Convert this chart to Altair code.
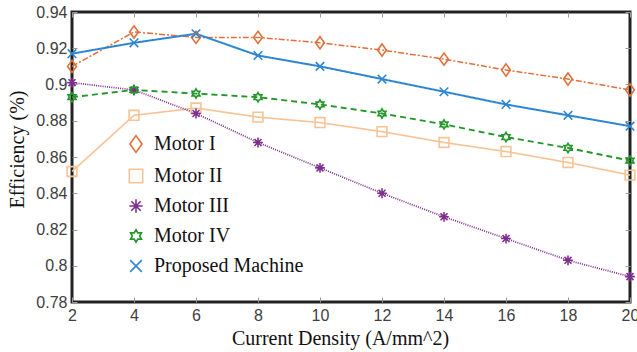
import altair as alt
import pandas as pd

x_vals = [2, 4, 6, 8, 10, 12, 14, 16, 18, 20]
series_names = ["Motor I", "Motor II", "Motor III", "Motor IV", "Proposed Machine"]
motor1 = [0.910, 0.929, 0.926, 0.926, 0.923, 0.919, 0.914, 0.908, 0.903, 0.897]
motor2 = [0.852, 0.883, 0.887, 0.882, 0.879, 0.874, 0.868, 0.863, 0.857, 0.850]
motor3 = [0.901, 0.897, 0.884, 0.868, 0.854, 0.840, 0.827, 0.815, 0.803, 0.794]
motor4 = [0.893, 0.897, 0.895, 0.893, 0.889, 0.884, 0.878, 0.871, 0.865, 0.858]
proposed = [0.917, 0.923, 0.928, 0.916, 0.910, 0.903, 0.896, 0.889, 0.883, 0.877]
y_ticks = [0.78, 0.80, 0.82, 0.84, 0.86, 0.88, 0.90, 0.92, 0.94]

values = [motor1, motor2, motor3, motor4, proposed]
rows = []
for name, vals in zip(series_names, values):
    for xv, yv in zip(x_vals, vals):
        rows.append({"x": xv, "eff": yv, "series": name})
df = pd.DataFrame(rows)

colors = ["#E0703A", "#F8C394", "#7E2F8E", "#23962A", "#2F86D0"]
shapes = [
    "M0,-1L0.72,0L0,1L-0.72,0Z",
    "M-0.8,-0.8L0.8,-0.8L0.8,0.8L-0.8,0.8Z",
    "M-0.8,0L0.8,0M0,-0.8L0,0.8M-0.57,-0.57L0.57,0.57M0.57,-0.57L-0.57,0.57",
    "M0,-0.75L0.217,-0.375L0.65,-0.375L0.433,0L0.65,0.375L0.217,0.375L0,0.75L-0.217,0.375L-0.65,0.375L-0.433,0L-0.65,-0.375L-0.217,-0.375Z",
    "M-0.7,-0.7L0.7,0.7M-0.7,0.7L0.7,-0.7",
]
dashes = [[6, 2, 2, 2], [1, 0], [1, 1.2], [6, 4], [1, 0]]
widths = [1.5, 2, 1.3, 2, 2]

xscale = alt.Scale(domain=[2, 20], nice=False, zero=False)
yscale = alt.Scale(domain=[0.78, 0.94], nice=False, zero=False)

tick_axis_common = dict(labels=False, domain=False, ticks=True, tickSize=5,
                        tickColor="#9a9a9a", tickWidth=1, title=None, grid=False, offset=-5)

legend_props = dict(title=None, orient="none", legendX=54, legendY=122,
                    labelFont="Liberation Serif", labelFontSize=20,
                    labelColor="#111", symbolSize=280, symbolStrokeWidth=1.6,
                    symbolFillColor="transparent", rowPadding=10,
                    labelOffset=8, padding=0, labelLimit=300)

lines = alt.Chart(df).mark_line().encode(
    x=alt.X("x:Q", scale=xscale,
            axis=alt.Axis(orient="bottom", values=x_vals, ticks=False, tickSize=0, domain=False,
                          grid=False, labelPadding=5, labelFont="Liberation Sans",
                          labelFontSize=16, labelColor="#404040", labelFlush=False,
                          title="Current Density (A/mm^2)", titleFont="Liberation Serif",
                          titleFontSize=20, titleFontWeight="normal", titleColor="#111",
                          titlePadding=5, titleX=268)),
    y=alt.Y("eff:Q", scale=yscale,
            axis=alt.Axis(orient="left", values=y_ticks, format="~g", ticks=False, tickSize=0,
                          domain=False, grid=False, labelPadding=5,
                          labelFont="Liberation Sans", labelFontSize=16, labelColor="#404040",
                          labelFlush=False, title="Efficiency (%)", titleFont="Liberation Serif",
                          titleFontSize=20, titleFontWeight="normal", titleColor="#111",
                          titlePadding=8, titleY=137)),
    color=alt.Color("series:N", scale=alt.Scale(domain=series_names, range=colors), legend=None),
    strokeDash=alt.StrokeDash("series:N", scale=alt.Scale(domain=series_names, range=dashes), legend=None),
    strokeWidth=alt.StrokeWidth("series:N", scale=alt.Scale(domain=series_names, range=widths), legend=None),
    detail="series:N",
)

points = alt.Chart(df).mark_point(filled=False, strokeWidth=1.6, size=150, opacity=1).encode(
    x=alt.X("x:Q", scale=xscale, axis=alt.Axis(orient="top", values=x_vals, **tick_axis_common)),
    y=alt.Y("eff:Q", scale=yscale, axis=alt.Axis(orient="right", values=y_ticks, **tick_axis_common)),
    color=alt.Color("series:N", scale=alt.Scale(domain=series_names, range=colors),
                    legend=alt.Legend(**legend_props)),
    shape=alt.Shape("series:N", scale=alt.Scale(domain=series_names, range=shapes),
                    legend=alt.Legend(**legend_props)),
)

bottom_ticks = alt.Chart(df).mark_point(opacity=0).encode(
    x=alt.X("x:Q", scale=xscale, axis=alt.Axis(orient="bottom", values=x_vals, **tick_axis_common)),
    y=alt.Y("eff:Q", scale=yscale, axis=alt.Axis(orient="left", values=y_ticks, **tick_axis_common)),
)

chart = alt.layer(lines, points, bottom_ticks).resolve_scale(
    x="shared", y="shared", color="independent", shape="independent",
    strokeDash="independent", strokeWidth="independent"
).resolve_legend(
    color="independent", shape="independent", strokeDash="independent", strokeWidth="independent"
).resolve_axis(
    x="independent", y="independent"
).properties(
    width=558, height=290,
    background="white",
    autosize=alt.AutoSizeParams(type="none"),
    padding={"left": 72, "top": 12, "right": 7, "bottom": 50},
).configure_view(
    stroke="#222222", strokeWidth=3
)

chart.save("out.html", embed_options={"renderer": "svg", "actions": False})
